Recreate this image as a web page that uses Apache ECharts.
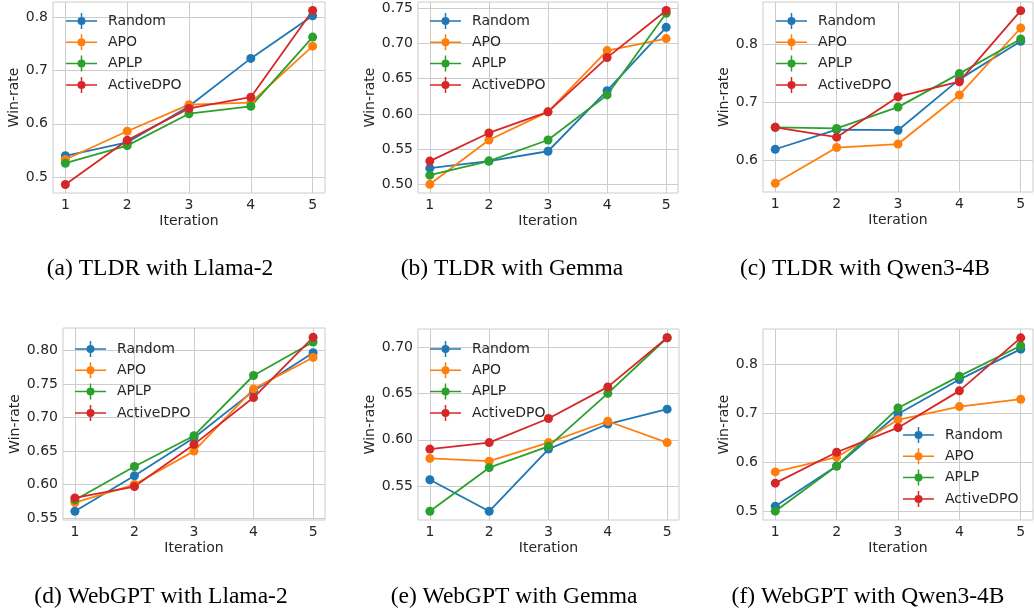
<!DOCTYPE html>
<html>
<head>
<meta charset="utf-8">
<script src="https://cdn.jsdelivr.net/npm/echarts@6/dist/echarts.min.js"></script>
<style>
  html, body { margin: 0; padding: 0; background: #fff; }
  #chart { width: 1034px; height: 614px; }
</style>
</head>
<body>
<div id="chart"></div>
<script>
// x positions shared by every panel
const iterations = [1, 2, 3, 4, 5];
const methods = ["Random", "APO", "APLP", "ActiveDPO"];
const palette = ["#1f77b4", "#ff7f0e", "#2ca02c", "#d62728"];

// (a) TLDR with Llama-2
const tldrLlamaRandom = [0.540, 0.565, 0.633, 0.723, 0.803];
const tldrLlamaApo = [0.533, 0.586, 0.636, 0.640, 0.746];
const tldrLlamaAplp = [0.526, 0.559, 0.619, 0.633, 0.763];
const tldrLlamaActive = [0.486, 0.569, 0.629, 0.650, 0.813];

// (b) TLDR with Gemma
const tldrGemmaRandom = [0.523, 0.533, 0.547, 0.633, 0.723];
const tldrGemmaApo = [0.500, 0.563, 0.603, 0.690, 0.707];
const tldrGemmaAplp = [0.513, 0.533, 0.563, 0.627, 0.743];
const tldrGemmaActive = [0.533, 0.573, 0.603, 0.680, 0.747];

// (c) TLDR with Qwen3-4B
const tldrQwenRandom = [0.619, 0.653, 0.652, 0.740, 0.806];
const tldrQwenApo = [0.560, 0.622, 0.628, 0.713, 0.829];
const tldrQwenAplp = [0.657, 0.655, 0.692, 0.750, 0.810];
const tldrQwenActive = [0.657, 0.640, 0.710, 0.736, 0.859];

// (d) WebGPT with Llama-2
const webLlamaRandom = [0.560, 0.613, 0.670, 0.740, 0.797];
const webLlamaApo = [0.573, 0.600, 0.650, 0.743, 0.790];
const webLlamaAplp = [0.577, 0.627, 0.673, 0.763, 0.813];
const webLlamaActive = [0.580, 0.597, 0.660, 0.730, 0.820];

// (e) WebGPT with Gemma
const webGemmaRandom = [0.557, 0.523, 0.590, 0.617, 0.633];
const webGemmaApo = [0.580, 0.577, 0.597, 0.620, 0.597];
const webGemmaAplp = [0.523, 0.570, 0.593, 0.650, 0.710];
const webGemmaActive = [0.590, 0.597, 0.623, 0.657, 0.710];

// (f) WebGPT with Qwen3-4B
const webQwenRandom = [0.510, 0.592, 0.698, 0.768, 0.830];
const webQwenApo = [0.580, 0.610, 0.686, 0.713, 0.728];
const webQwenAplp = [0.500, 0.592, 0.710, 0.775, 0.837];
const webQwenActive = [0.557, 0.620, 0.670, 0.745, 0.853];

const captions = [
  "(a) TLDR with Llama-2",
  "(b) TLDR with Gemma",
  "(c) TLDR with Qwen3-4B",
  "(d) WebGPT with Llama-2",
  "(e) WebGPT with Gemma",
  "(f) WebGPT with Qwen3-4B",
];

// y tick labels per panel
const yTicksA = [0.5, 0.6, 0.7, 0.8];
const yTicksB = [0.50, 0.55, 0.60, 0.65, 0.70, 0.75];
const yTicksC = [0.6, 0.7, 0.8];
const yTicksD = [0.55, 0.60, 0.65, 0.70, 0.75, 0.80];
const yTicksE = [0.55, 0.60, 0.65, 0.70];
const yTicksF = [0.5, 0.6, 0.7, 0.8];
const yDecimals = [1, 2, 1, 2, 2, 1];
const yMins = [0.470, 0.4877, 0.545, 0.547, 0.5136, 0.482];
const yMaxs = [0.829, 0.759, 0.874, 0.834, 0.7194, 0.871];

const panels = [
  { values: [tldrLlamaRandom, tldrLlamaApo, tldrLlamaAplp, tldrLlamaActive], ticks: yTicksA },
  { values: [tldrGemmaRandom, tldrGemmaApo, tldrGemmaAplp, tldrGemmaActive], ticks: yTicksB },
  { values: [tldrQwenRandom, tldrQwenApo, tldrQwenAplp, tldrQwenActive], ticks: yTicksC },
  { values: [webLlamaRandom, webLlamaApo, webLlamaAplp, webLlamaActive], ticks: yTicksD },
  { values: [webGemmaRandom, webGemmaApo, webGemmaAplp, webGemmaActive], ticks: yTicksE },
  { values: [webQwenRandom, webQwenApo, webQwenAplp, webQwenActive], ticks: yTicksF },
];

// layout
const grids = [
  { left: 53, top: 2, width: 272, height: 191 },
  { left: 418, top: 2, width: 260, height: 191 },
  { left: 763, top: 2, width: 270, height: 190 },
  { left: 63, top: 328, width: 262, height: 192 },
  { left: 418, top: 329, width: 261, height: 191 },
  { left: 763, top: 329, width: 270, height: 191 },
];
const legendPos = [
  { left: 66, top: 13 },
  { left: 430, top: 13 },
  { left: 776, top: 13 },
  { left: 75, top: 341 },
  { left: 430, top: 341 },
  { left: 903, top: 427 },
];
const captionX = [160, 512, 865, 161, 514, 868];
const captionY = [257, 257, 257, 585, 585, 585];

const sans = "DejaVu Sans";
const ink = "#262626";
const gridColor = "#cccccc";
// errorbar-style legend handle: line, vertical bar, dot
const legendIcon =
  "path://M0,7.25 L31,7.25 L31,8.75 L0,8.75 Z " +
  "M14.75,0 L16.25,0 L16.25,16 L14.75,16 Z " +
  "M19.5,8 A4,4 0 1,1 11.5,8 A4,4 0 1,1 19.5,8 Z";

const option = {
  animation: false,
  textStyle: { fontFamily: sans },
  title: captions.map((text, i) => ({
    text,
    left: captionX[i],
    top: captionY[i],
    textAlign: "center",
    padding: 0,
    textStyle: { fontFamily: "Liberation Serif", fontSize: 23.5, fontWeight: "normal", color: "#000" },
  })),
  grid: grids.map((g) => ({
    ...g,
    show: true,
    borderColor: gridColor,
    borderWidth: 1,
    backgroundColor: "transparent",
  })),
  legend: legendPos.map((p) => ({
    ...p,
    orient: "vertical",
    data: methods,
    icon: legendIcon,
    itemWidth: 31,
    itemHeight: 16,
    itemGap: 5.3,
    padding: 0,
    selectedMode: false,
    itemStyle: { borderWidth: 0 },
    textStyle: { fontFamily: sans, fontSize: 14, color: ink, padding: [0, 0, 0, 6] },
  })),
  xAxis: grids.map((g, i) => ({
    type: "value",
    gridIndex: i,
    min: 0.8,
    max: 5.2,
    name: "Iteration",
    nameLocation: "middle",
    nameGap: 21,
    nameTextStyle: { fontFamily: sans, fontSize: 14, color: ink },
    axisLine: { show: false },
    axisTick: { show: false, customValues: iterations },
    axisLabel: { customValues: iterations, color: ink, fontSize: 14, margin: 5 },
    splitLine: { show: true, lineStyle: { color: gridColor, width: 1 } },
  })),
  yAxis: panels.map((p, i) => ({
    type: "value",
    gridIndex: i,
    min: yMins[i],
    max: yMaxs[i],
    name: "Win-rate",
    nameLocation: "middle",
    nameGap: yDecimals[i] === 1 ? 31 : 41,
    nameTextStyle: { fontFamily: sans, fontSize: 14, color: ink },
    axisLine: { show: false },
    axisTick: { show: false, customValues: p.ticks },
    axisLabel: {
      customValues: p.ticks,
      color: ink,
      fontSize: 14,
      margin: 5,
      formatter: (v) => Number(v).toFixed(yDecimals[i]),
    },
    splitLine: { show: true, lineStyle: { color: gridColor, width: 1 } },
  })),
  series: panels.flatMap((p, i) =>
    p.values.map((vals, m) => ({
      name: methods[m],
      type: "line",
      xAxisIndex: i,
      yAxisIndex: i,
      data: iterations.map((x, k) => [x, vals[k]]),
      symbol: "circle",
      symbolSize: 9,
      lineStyle: { color: palette[m], width: 1.8 },
      itemStyle: { color: palette[m], borderWidth: 0 },
      emphasis: { disabled: true },
    }))
  ),
};

const chart = echarts.init(document.getElementById("chart"), null, { renderer: "canvas" });
chart.setOption(option);
</script>
</body>
</html>
